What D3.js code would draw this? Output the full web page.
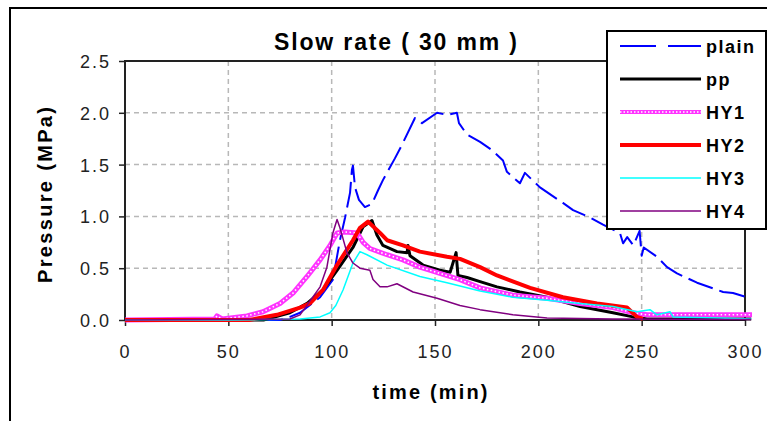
<!DOCTYPE html>
<html>
<head>
<meta charset="utf-8">
<script src="https://cdn.jsdelivr.net/npm/d3@7"></script>
<style>
body { margin: 0; background: #fff; }
svg { display: block; font-family: "Liberation Sans", Arial, sans-serif; }
</style>
</head>
<body>
<div id="chart"></div>
<script>
// legend order
var seriesNames = ["plain", "pp", "HY1", "HY2", "HY3", "HY4"];

// time (min) / pressure (MPa)
var plainTime = [0, 75, 79.8, 84.7, 94.4, 100.6, 104, 106.5, 108.9, 109.8, 110.3, 111.3, 113.2, 116.1, 119.5, 122.4, 124.8, 130.6, 134, 140.3, 143.7, 151, 155.8, 160.6, 161.6, 165.5, 171.8, 177.6, 182.9, 184.8, 191.1, 193.5, 200.8, 211.9, 216.8, 225, 231.3, 239.5, 241, 243, 246, 249, 250, 251, 257.4, 262.3, 267.1, 276.8, 289.4, 294.2, 302.4];
var plainP = [0, 0, 0.03, 0.07, 0.22, 0.39, 0.77, 0.99, 1.23, 1.45, 1.49, 1.28, 1.16, 1.09, 1.12, 1.25, 1.35, 1.56, 1.69, 1.95, 1.90, 2.0, 1.98, 2.0, 1.90, 1.79, 1.72, 1.64, 1.54, 1.43, 1.32, 1.42, 1.28, 1.13, 1.06, 0.99, 0.92, 0.84, 0.74, 0.80, 0.72, 0.86, 0.62, 0.70, 0.61, 0.51, 0.45, 0.36, 0.27, 0.26, 0.21];

var ppTime = [0, 67, 79.8, 88.1, 95.8, 102.6, 110.3, 115.2, 119.5, 121.9, 124.8, 131.6, 136.5, 136.9, 137.9, 144.2, 152.4, 157.3, 160.2, 161.1, 165.5, 171.8, 180, 191.1, 204.2, 220.2, 236.1, 245.8, 252.6, 303];
var ppP = [0, 0, 0.07, 0.16, 0.29, 0.48, 0.70, 0.90, 0.96, 0.82, 0.72, 0.66, 0.65, 0.72, 0.62, 0.53, 0.48, 0.46, 0.65, 0.43, 0.41, 0.37, 0.32, 0.27, 0.22, 0.13, 0.07, 0.03, 0.01, 0.01];

var hy1Time = [0, 43.5, 44.5, 47, 59, 66.8, 75, 81.3, 88.1, 94.4, 99.2, 102.6, 106.5, 112.3, 115.2, 118.5, 126.8, 134.5, 142.7, 152.4, 162.1, 171.8, 187.7, 204.2, 220.2, 236.1, 245.8, 252.6, 303.4];
var hy1P = [0, 0.01, 0.04, 0.01, 0.04, 0.08, 0.16, 0.26, 0.42, 0.58, 0.72, 0.84, 0.85, 0.84, 0.75, 0.69, 0.63, 0.58, 0.51, 0.45, 0.39, 0.31, 0.24, 0.21, 0.16, 0.12, 0.07, 0.05, 0.05];

var hy2Time = [0, 60, 73.5, 84.7, 89.5, 95.8, 102.6, 110.3, 113.7, 117.6, 123.4, 126.8, 134.5, 142.7, 155.8, 162.1, 171.8, 180, 196, 211.9, 228.4, 242.9, 247.7, 250.6];
var hy2P = [0, 0, 0.05, 0.12, 0.16, 0.29, 0.53, 0.77, 0.89, 0.95, 0.84, 0.77, 0.72, 0.66, 0.61, 0.59, 0.51, 0.43, 0.31, 0.22, 0.16, 0.12, 0.03, 0.01];

var hy3Time = [0, 52.3, 84.7, 94.4, 99.2, 102, 105.5, 110.3, 113.7, 117.1, 126.8, 142.7, 155.8, 171.8, 187.7, 204.2, 220.2, 236.1, 247.7, 254, 257.4, 263.7, 265.2, 286.5, 303];
var hy3P = [0, 0, 0.01, 0.03, 0.07, 0.14, 0.29, 0.55, 0.66, 0.63, 0.53, 0.42, 0.36, 0.28, 0.22, 0.19, 0.16, 0.13, 0.08, 0.10, 0.05, 0.08, 0.03, 0.02, 0.01];

var hy4Time = [0, 79.8, 84.7, 94.4, 97.7, 100.6, 102.6, 104, 107.4, 110.3, 113.7, 118.5, 120, 123.4, 126.8, 131.6, 139.4, 151, 162.1, 171.8, 187.7, 204.2, 236.1, 303];
var hy4P = [0, 0.01, 0.05, 0.32, 0.51, 0.84, 0.97, 0.89, 0.65, 0.55, 0.50, 0.48, 0.39, 0.32, 0.32, 0.35, 0.27, 0.21, 0.14, 0.10, 0.05, 0.02, 0.01, 0.005];

var xTicks = [0, 50, 100, 150, 200, 250, 300];
var yTicks = [0, 0.5, 1.0, 1.5, 2.0, 2.5];

var width = 767,
    height = 421;

var svg = d3.select("#chart")
    .append("svg")
    .attr("width", width)
    .attr("height", height);

var x = d3.scaleLinear().domain([0, 300]).range([125, 745]);
var y = d3.scaleLinear().domain([0, 2.5]).range([320, 61]);

// outer chart frame (cut off at right and bottom)
svg.append("path")
    .attr("d", "M10," + height + "V8H" + width)
    .attr("fill", "none")
    .attr("stroke", "#000")
    .attr("stroke-width", 2);

// grid
svg.append("g").selectAll("line")
    .data(xTicks.slice(1, -1))
    .join("line")
    .attr("x1", d => x(d)).attr("x2", d => x(d))
    .attr("y1", y(2.5)).attr("y2", y(0))
    .attr("stroke", "#b8b8b8")
    .attr("stroke-width", 1.5)
    .attr("stroke-dasharray", "5,4");

svg.append("g").selectAll("line")
    .data(yTicks.slice(1, -1))
    .join("line")
    .attr("x1", x(0)).attr("x2", x(300))
    .attr("y1", d => y(d)).attr("y2", d => y(d))
    .attr("stroke", "#b8b8b8")
    .attr("stroke-width", 1.5)
    .attr("stroke-dasharray", "5,4");

// plot border
svg.append("rect")
    .attr("x", x(0)).attr("y", y(2.5))
    .attr("width", x(300) - x(0))
    .attr("height", y(0) - y(2.5))
    .attr("fill", "none")
    .attr("stroke", "#222")
    .attr("stroke-width", 2);

// axes
var xAxis = svg.append("g")
    .attr("transform", "translate(0," + y(0) + ")")
    .call(d3.axisBottom(x).tickValues(xTicks).tickSize(6).tickPadding(19));

var yAxis = svg.append("g")
    .attr("transform", "translate(" + x(0) + ",0)")
    .call(d3.axisLeft(y).tickValues(yTicks).tickFormat(d3.format(".1f")).tickSize(6).tickPadding(8));

[xAxis, yAxis].forEach(function (a) {
    a.select(".domain").remove();
    a.selectAll(".tick line").attr("stroke", "#222").attr("stroke-width", 1.5);
    a.selectAll(".tick text")
        .attr("fill", "#222")
        .style("font-family", "'Liberation Sans', Arial, sans-serif")
        .style("font-size", "18px")
        .style("letter-spacing", "2px");
});
yAxis.selectAll(".tick text").attr("dy", "0.36em");

// series styles
var styles = {
    plain: { color: "#0000ff", width: 2, dash: "26,7" },
    pp: { color: "#000000", width: 3 },
    HY1: { color: "#ff33ff", width: 5, dots: true },
    HY2: { color: "#ff0000", width: 4 },
    HY3: { color: "#00ffff", width: 1.5 },
    HY4: { color: "#800080", width: 1.5 }
};

var seriesData = {
    plain: d3.zip(plainTime, plainP),
    pp: d3.zip(ppTime, ppP),
    HY1: d3.zip(hy1Time, hy1P),
    HY2: d3.zip(hy2Time, hy2P),
    HY3: d3.zip(hy3Time, hy3P),
    HY4: d3.zip(hy4Time, hy4P)
};

var line = d3.line()
    .x(d => x(d[0]))
    .y(d => y(d[1]));

var lines = svg.append("g").attr("class", "lines");

seriesNames.forEach(function (name) {
    var s = styles[name];
    lines.append("path")
        .datum(seriesData[name])
        .attr("d", line)
        .attr("fill", "none")
        .attr("stroke", s.color)
        .attr("stroke-width", s.width)
        .attr("stroke-linejoin", "round")
        .attr("stroke-dasharray", s.dash || null);
    if (s.dots) {
        // white speckles on the hatched line
        lines.append("path")
            .datum(seriesData[name])
            .attr("d", line)
            .attr("fill", "none")
            .attr("stroke", "#fff")
            .attr("stroke-width", 1.6)
            .attr("stroke-dasharray", "1.5,2.5");
    }
});

// title and axis labels
svg.append("text")
    .attr("x", 395.5).attr("y", 50)
    .attr("text-anchor", "middle")
    .attr("textLength", 243)
    .attr("lengthAdjust", "spacing")
    .style("font-size", "23px")
    .style("font-weight", "bold")
    .text("Slow rate ( 30 mm )");

svg.append("text")
    .attr("x", 430).attr("y", 399)
    .attr("text-anchor", "middle")
    .attr("textLength", 115)
    .attr("lengthAdjust", "spacing")
    .style("font-size", "20px")
    .style("font-weight", "bold")
    .text("time (min)");

svg.append("text")
    .attr("transform", "translate(52," + 195 + ") rotate(-90)")
    .attr("text-anchor", "middle")
    .attr("textLength", 176)
    .attr("lengthAdjust", "spacing")
    .style("font-size", "20px")
    .style("font-weight", "bold")
    .text("Pressure (MPa)");

// legend
var legend = svg.append("g").attr("class", "legend");

legend.append("rect")
    .attr("x", 607).attr("y", 31)
    .attr("width", 159).attr("height", 198)
    .attr("fill", "#fff")
    .attr("stroke", "#000")
    .attr("stroke-width", 2);

var rows = legend.selectAll(".row")
    .data(seriesNames)
    .join("g")
    .attr("class", "row")
    .attr("transform", (d, i) => "translate(0," + (46 + 33 * i) + ")");

rows.append("line")
    .attr("x1", 620).attr("x2", 701)
    .attr("stroke", d => styles[d].color)
    .attr("stroke-width", d => d == "HY1" ? 4 : styles[d].width)
    .attr("stroke-dasharray", d => d == "plain" ? "36,12" : null);

rows.filter(d => styles[d].dots)
    .append("line")
    .attr("x1", 620).attr("x2", 701)
    .attr("stroke", "#fff")
    .attr("stroke-width", 1.4)
    .attr("stroke-dasharray", "1.5,2");

rows.append("text")
    .attr("x", 706).attr("y", 7)
    .style("font-size", "18px")
    .style("font-weight", "bold")
    .style("letter-spacing", "1.5px")
    .text(d => d);
</script>
</body>
</html>
